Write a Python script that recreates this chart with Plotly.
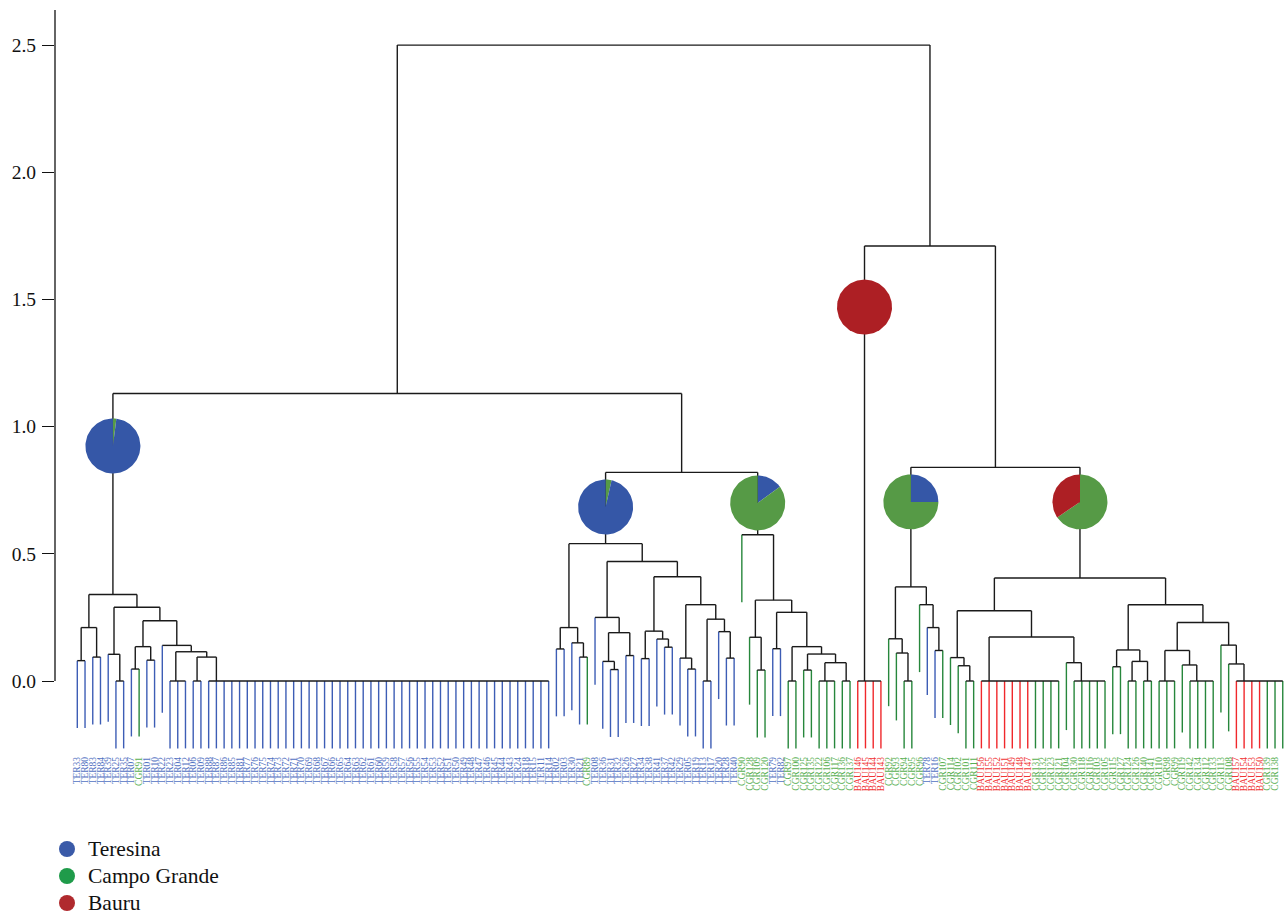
import math
import plotly.graph_objects as go

# ---------------- data ----------------
LABELS_A = (["TER33", "TER80", "TER83", "TER84", "TER39", "TER25", "TER35", "TER07", "CGR91",
             "TER01", "TER10", "TER22", "TER23", "TER04", "TER12", "TER06", "TER09",
             "TER88", "TER87", "TER86", "TER85", "TER81", "TER77"]
            + ["TER%02d" % n for n in range(76, 42, -1)]
            + ["TER24", "TER18", "TER15", "TER11", "TER14"])
LABELS_B1 = ["TER02", "TER03", "TER30", "TER21", "CGR89", "TER08", "TER36", "TER31", "TER32",
             "TER26", "TER27", "TER34", "TER38", "TER41", "TER37", "TER42", "TER29", "TER05",
             "TER19", "TER13", "TER17", "TER20", "TER28", "TER40"]
LABELS_B2 = ["CGR90", "CGR128", "CGR109", "CGR120", "TER79", "TER82", "CGR97", "CGR100",
             "CGR125", "CGR135", "CGR122", "CGR106", "CGR117", "CGR136", "CGR137"]
LABELS_D = ["BAU146", "BAU145", "BAU144", "BAU143"]
LABELS_C1 = ["CGR92", "CGR93", "CGR94", "CGR95", "CGR96", "TER78", "TER16", "CGR107"]
LABELS_C2 = ["CGR114", "CGR102", "CGR101", "CGR111", "BAU156", "BAU155", "BAU152", "BAU151",
             "BAU149", "BAU148", "BAU147", "CGR131", "CGR132", "CGR123", "CGR121", "CGR104",
             "CGR130", "CGR118", "CGR116", "CGR103", "CGR105", "CGR115", "CGR127", "CGR124",
             "CGR126", "CGR140", "CGR141", "CGR110", "CGR98", "CGR99", "CGR119", "CGR142",
             "CGR134", "CGR112", "CGR133", "CGR113", "CGR108", "BAU157", "BAU154", "BAU153",
             "BAU150", "CGR139", "CGR138", "CGR129"]
LABELS = LABELS_A + LABELS_B1 + LABELS_B2 + LABELS_D + LABELS_C1 + LABELS_C2

GROUP_NAMES = ["Teresina", "Campo Grande", "Bauru"]
GROUP_PREFIX = ["TER", "CGR", "BAU"]

# tree: [merge height, child, child, ...]; ints are leaf positions in LABELS
A_TREE = [0.34,
          [0.21, [0.08, 0, 1], [0.094, 2, 3]],
          [0.29,
           [0.105, 4, [0.0, 5, 6]],
           [0.237,
            [0.135, [0.047, 7, 8], [0.082, 9, 10]],
            [0.14, 11, [0.115, [0.0, 12, 13, 14],
                        [0.094, [0.0, 15, 16], [0.0] + list(range(17, 62))]]]]]]
B1_TREE = [0.54,
           [0.21, [0.126, 62, 63], [0.15, 64, [0.094, 65, 66]]],
           [0.47,
            [0.25, 67, [0.19, [0.077, 68, [0.045, 69, 70]], [0.10, 71, 72]]],
            [0.41,
             [0.196, [0.088, 73, 74], [0.165, 75, [0.133, 76, 77]]],
             [0.30, [0.09, 78, [0.047, 79, 80]],
              [0.243, [0.0, 81, 82], [0.194, 83, [0.09, 84, 85]]]]]]]
B2_TREE = [0.575, 86,
           [0.318,
            [0.172, 87, [0.043, 88, 89]],
            [0.27, [0.127, 90, 91],
             [0.135, [0.0, 92, 93],
              [0.106, [0.043, 94, 95], [0.072, [0.0, 96, 97, 98], [0.0, 99, 100]]]]]]]
D_TREE = [0.0, 101, 102, 103, 104]
C1_TREE = [0.37,
           [0.166, 105, [0.11, 106, [0.0, 107, 108]]],
           [0.30, 109, [0.21, 110, [0.12, 111, 112]]]]
C2_TREE = [0.405,
           [0.276, [0.092, 113, [0.06, 114, [0.0, 115, 116]]],
            [0.173, [0.0] + list(range(117, 128)), [0.072, 128, [0.0] + list(range(129, 134))]]],
           [0.30,
            [0.122, [0.056, 134, 135], [0.077, [0.0, 136, 137], [0.0, 138, 139]]],
            [0.23,
             [0.12, [0.0, 140, 141, 142], [0.063, 143, [0.0, 144, 145, 146, 147]]],
             [0.141, 148, [0.067, 149, [0.0] + list(range(150, 157))]]]]]
ROOT = [2.5, [1.13, A_TREE, [0.82, B1_TREE, B2_TREE]], [1.71, D_TREE, [0.84, C1_TREE, C2_TREE]]]

LEAF_DROP = 0.265

# pies: which subtree, centre height, slices (group index, fraction) clockwise from 12 o'clock
PIE_TREES = [A_TREE, B1_TREE, B2_TREE, D_TREE, C1_TREE, C2_TREE]
PIE_HEIGHTS = [0.924, 0.684, 0.70, 1.47, 0.704, 0.704]
PIE_SLICES = [[(1, 0.02), (0, 0.98)],
              [(1, 0.035), (0, 0.965)],
              [(0, 0.15), (1, 0.85)],
              [(2, 1.0)],
              [(0, 0.25), (1, 0.75)],
              [(1, 0.655), (2, 0.345)]]

Y_TICKS = [0.0, 0.5, 1.0, 1.5, 2.0, 2.5]
Y_TICKTEXT = ["0.0", "0.5", "1.0", "1.5", "2.0", "2.5"]

# ---------------- style ----------------
W, H = 1287, 915
ML, MR, MT, MB = 55, 0, 10, 161
X_RANGE = [-2.886, 156.55]
Y_RANGE = [-0.287, 2.638]
PLOT_W, PLOT_H = W - ML - MR, H - MT - MB
PX_X = PLOT_W / (X_RANGE[1] - X_RANGE[0])
PX_Y = PLOT_H / (Y_RANGE[1] - Y_RANGE[0])
PIE_R = 27.5

DOT_COLORS = ["#3a5aa8", "#1f9b4a", "#b02a2e"]
LINE_COLORS = ["#3d5db5", "#27873c", "#f0282c"]
LABEL_COLORS = ["#5272c2", "#58b052", "#f03434"]
PIE_COLORS = ["#3557a7", "#569a46", "#ad1f24"]
SERIF = "Liberation Serif, Times New Roman, serif"

# legend placement (pixels in the figure)
LEG_DOT_X, LEG_TEXT_X, LEG_Y0, LEG_DY, LEG_DOT_R = 67, 86, 849, 27, 8


def group_of(i):
    return GROUP_PREFIX.index(LABELS[i][:3])


def xpos(kx):
    if len(kx) == 1:
        return kx[0]
    if len(kx) == 2:
        return (kx[0] + kx[1]) / 2
    return (kx[0] + xpos(kx[1:])) / 2


black_x, black_y = [], []
leaf_x = {g: [] for g in range(3)}
leaf_y = {g: [] for g in range(3)}
node_x = {}


def draw(node):
    if isinstance(node, int):
        return float(node)
    h = node[0]
    kx = []
    for k in node[1:]:
        x = draw(k)
        kx.append(x)
        if isinstance(k, int):
            g = group_of(k)
            leaf_x[g] += [x, x, None]
            leaf_y[g] += [h, h - LEAF_DROP, None]
        else:
            black_x.extend([x, x, None])
            black_y.extend([h, k[0], None])
    black_x.extend([min(kx), max(kx), None])
    black_y.extend([h, h, None])
    x = xpos(kx)
    node_x[id(node)] = x
    return x


draw(ROOT)

fig = go.Figure()
for g in range(3):
    fig.add_trace(go.Scatter(x=leaf_x[g], y=leaf_y[g], mode="lines",
                             line=dict(color=LINE_COLORS[g], width=1.4),
                             hoverinfo="skip", showlegend=False))
fig.add_trace(go.Scatter(x=black_x, y=black_y, mode="lines",
                         line=dict(color="#1a1a1a", width=1.4),
                         hoverinfo="skip", showlegend=False))

rx, ry = PIE_R / PX_X, PIE_R / PX_Y
for tree, cy, slices in zip(PIE_TREES, PIE_HEIGHTS, PIE_SLICES):
    cx = node_x[id(tree)]
    start = 0.0
    for g, frac in slices:
        end = start + frac
        n = max(2, int(frac * 120))
        px = [cx] if frac < 1 else []
        py = [cy] if frac < 1 else []
        for j in range(n + 1):
            t = 2 * math.pi * (start + (end - start) * j / n)
            px.append(cx + rx * math.sin(t))
            py.append(cy + ry * math.cos(t))
        px.append(px[0])
        py.append(py[0])
        fig.add_trace(go.Scatter(x=px, y=py, mode="lines", fill="toself",
                                 fillcolor=PIE_COLORS[g], line=dict(width=0, color=PIE_COLORS[g]),
                                 hoverinfo="skip", showlegend=False))
        start = end

ticktext = ['<span style="color:%s">%s</span>' % (LABEL_COLORS[group_of(i)], lab)
            for i, lab in enumerate(LABELS)]


def paper_x(px):
    return (px - ML) / PLOT_W


def paper_y(py):
    return (H - MB - py) / PLOT_H


shapes = [dict(type="line", xref="paper", yref="y", x0=0, x1=0, y0=0, y1=Y_RANGE[1],
               line=dict(color="#111111", width=1.3))]
annotations = []
for g, name in enumerate(GROUP_NAMES):
    cy = LEG_Y0 + g * LEG_DY
    shapes.append(dict(type="circle", xref="paper", yref="paper",
                       x0=paper_x(LEG_DOT_X - LEG_DOT_R), x1=paper_x(LEG_DOT_X + LEG_DOT_R),
                       y0=paper_y(cy + LEG_DOT_R), y1=paper_y(cy - LEG_DOT_R),
                       fillcolor=DOT_COLORS[g], line=dict(width=0)))
    annotations.append(dict(xref="paper", yref="paper", x=paper_x(LEG_TEXT_X), y=paper_y(cy),
                            xanchor="left", yanchor="middle", showarrow=False, text=name,
                            font=dict(size=21.5, family=SERIF, color="#111111")))

fig.update_layout(
    width=W, height=H,
    margin=dict(l=ML, r=MR, t=MT, b=MB, pad=0),
    plot_bgcolor="white", paper_bgcolor="white",
    font=dict(family=SERIF, color="#111111"),
    showlegend=False,
    xaxis=dict(range=X_RANGE, showgrid=False, zeroline=False, showline=False,
               tickmode="array", tickvals=list(range(len(LABELS))), ticktext=ticktext,
               tickangle=-90, ticks="", tickfont=dict(size=9.5, family=SERIF),
               automargin=False, fixedrange=True),
    yaxis=dict(range=Y_RANGE, showgrid=False, zeroline=False, showline=False,
               tickmode="array", tickvals=Y_TICKS, ticktext=Y_TICKTEXT,
               ticks="outside", ticklen=12, tickwidth=1.3, tickcolor="#111111",
               ticklabelstandoff=2,
               tickfont=dict(size=19.5, family=SERIF, color="#111111"),
               automargin=False, fixedrange=True),
    shapes=shapes,
    annotations=annotations,
)

fig.write_html("out.html", config={"displayModeBar": False},
               post_script="document.body.style.margin='0';document.body.style.overflow='hidden';")
